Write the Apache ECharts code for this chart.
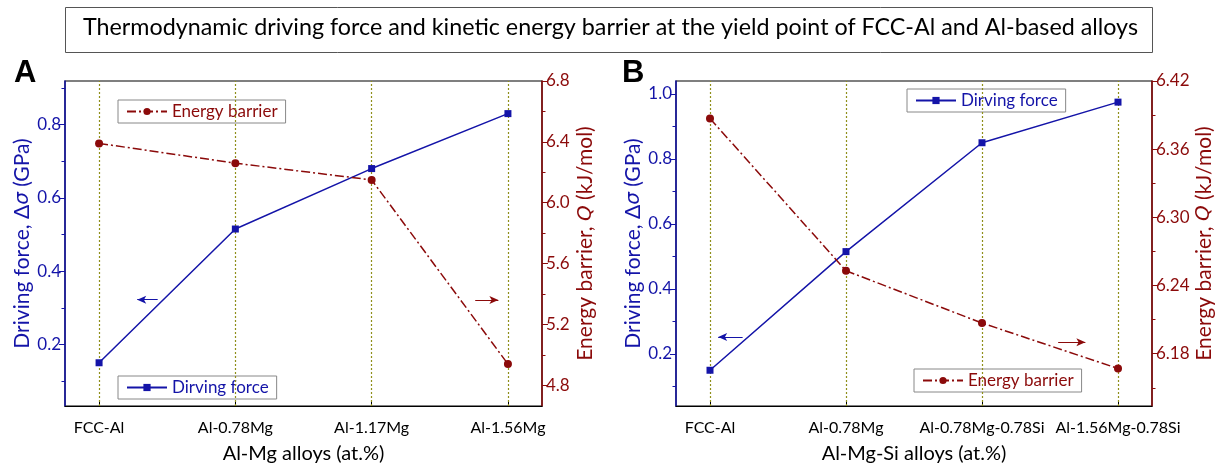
<!DOCTYPE html>
<html>
<head>
<meta charset="utf-8">
<script src="https://cdn.jsdelivr.net/npm/echarts@6/dist/echarts.min.js"></script>
<style>
  html, body { margin: 0; padding: 0; background: #fff; }
  #chartBox { width: 1221px; height: 469px; }
</style>
</head>
<body>
<div id="chartBox"></div>
<script>
// panel A: Al-Mg
const catsA = ['FCC-Al', 'Al-0.78Mg', 'Al-1.17Mg', 'Al-1.56Mg']
const forceA = [0.15, 0.515, 0.68, 0.83]
const barrierA = [6.39, 6.26, 6.15, 4.94]
const forceTicksA = [0.2, 0.4, 0.6, 0.8]
const forceMinorA = [0.1, 0.3, 0.5, 0.7, 0.9]
const barrierTicksA = [4.8, 5.2, 5.6, 6.0, 6.4, 6.8]
const barrierMinorA = [5.0, 5.4, 5.8, 6.2, 6.6]

// panel B: Al-Mg-Si
const catsB = ['FCC-Al', 'Al-0.78Mg', 'Al-0.78Mg-0.78Si', 'Al-1.56Mg-0.78Si']
const forceB = [0.15, 0.515, 0.85, 0.975]
const barrierB = [6.387, 6.253, 6.207, 6.167]
const forceTicksB = [0.2, 0.4, 0.6, 0.8, 1.0]
const forceMinorB = [0.1, 0.3, 0.5, 0.7, 0.9]
const barrierTicksB = [6.18, 6.24, 6.30, 6.36, 6.42]
const barrierMinorB = [6.15, 6.21, 6.27, 6.33, 6.39]

const BLUE = '#1414a8'
const RED = '#8b0a0a'
const OLIVE = '#8f8f1a'
const FONT = 'Lato'

function xAxisFor (grid, cats, title) {
  return {
    type: 'value',
    gridIndex: grid,
    min: -0.25,
    max: cats.length - 0.75,
    name: title,
    nameLocation: 'middle',
    nameGap: 38,
    nameTextStyle: { color: '#000', fontSize: 20, fontFamily: FONT },
    axisLine: { onZero: false, lineStyle: { color: '#000', width: 1.2 } },
    axisTick: { inside: true, length: 6, customValues: cats.map((c, i) => i), lineStyle: { color: '#000' } },
    axisLabel: {
      customValues: cats.map((c, i) => i),
      formatter: v => cats[Math.round(v)],
      color: '#000', fontSize: 16, fontFamily: FONT, margin: 14
    },
    splitLine: { show: false }
  }
}

function yAxisFor (grid, pos, min, max, ticks, digits, color, name) {
  return {
    type: 'value',
    gridIndex: grid,
    position: pos,
    min: min,
    max: max,
    name: name,
    nameLocation: 'middle',
    nameGap: pos === 'left' ? 32 : 33,
    nameTextStyle: {
      color: color, fontSize: 21, fontFamily: FONT,
      rich: { i: { fontStyle: 'italic', fontSize: 20, fontFamily: 'DejaVu Sans', color: color } }
    },
    axisLine: { show: true, onZero: false, lineStyle: { color: color, width: 1.5 } },
    axisTick: { show: true, length: 6, customValues: ticks, lineStyle: { color: color } },
    axisLabel: {
      customValues: ticks,
      formatter: v => v.toFixed(digits),
      color: color, fontSize: 17, fontFamily: FONT, margin: 4
    },
    splitLine: { show: false }
  }
}

function minorAxis (grid, pos, min, max, ticks, color) {
  return {
    type: 'value',
    gridIndex: grid,
    position: pos,
    min: min,
    max: max,
    axisLine: { show: false, onZero: false },
    axisTick: { show: true, length: 3.5, customValues: ticks, lineStyle: { color: color } },
    axisLabel: { show: false },
    splitLine: { show: false }
  }
}

function arrow (x0, x1, y, color) {
  return [
    { coord: [x0, y], symbol: 'none', lineStyle: { color: color, type: 'solid', width: 1 } },
    { coord: [x1, y], symbol: 'arrow', symbolSize: [6, 9] }
  ]
}

function guideLines (cats) {
  return cats.map((c, i) => ({ xAxis: i, lineStyle: { color: OLIVE, type: [2, 2], width: 1.2 } }))
}

function forceSeries (xi, yi, data, cats, arrowData) {
  return {
    name: 'Dirving force',
    type: 'line',
    xAxisIndex: xi,
    yAxisIndex: yi,
    data: data.map((v, i) => [i, v]),
    symbol: 'rect',
    symbolSize: 7,
    itemStyle: { color: BLUE },
    lineStyle: { color: BLUE, width: 1.5 },
    z: 5,
    markLine: {
      silent: true,
      symbol: 'none',
      animation: false,
      label: { show: false },
      data: guideLines(cats).concat([arrowData])
    }
  }
}

function barrierSeries (xi, yi, data, arrowData) {
  return {
    name: 'Energy barrier',
    type: 'line',
    xAxisIndex: xi,
    yAxisIndex: yi,
    data: data.map((v, i) => [i, v]),
    symbol: 'circle',
    symbolSize: 8,
    itemStyle: { color: RED },
    lineStyle: { color: RED, width: 1.5, type: [9, 3, 2, 3] },
    z: 5,
    markLine: {
      silent: true,
      symbol: 'none',
      animation: false,
      label: { show: false },
      data: [arrowData]
    }
  }
}

function legendBox (name, left, top, color) {
  return {
    data: [name],
    left: left,
    top: top,
    orient: 'horizontal',
    backgroundColor: '#fff',
    borderColor: '#888',
    borderWidth: 1,
    borderRadius: 0,
    padding: [3, 8, 3, 8],
    itemWidth: 40,
    itemHeight: 9,
    itemGap: 5,
    selectedMode: false,
    textStyle: { color: color, fontSize: 17, fontFamily: FONT }
  }
}

const myChart = echarts.init(document.getElementById('chartBox'))
myChart.setOption({
  animation: false,
  graphic: [
    { type: 'rect', left: 65, top: 7, shape: { width: 1087, height: 45 }, style: { fill: '#fff', stroke: '#555', lineWidth: 1 } },
    {
      type: 'text', left: 'center', top: 16,
      style: { text: 'Thermodynamic driving force and kinetic energy barrier at the yield point of FCC-Al and Al-based alloys', fill: '#000', font: '23.3px Lato' }
    },
    { type: 'text', left: 14, top: 58, style: { text: 'A', fill: '#000', font: 'bold 31px "Liberation Sans"' } },
    { type: 'text', left: 622, top: 58, style: { text: 'B', fill: '#000', font: 'bold 31px "Liberation Sans"' } }
  ],
  legend: [
    legendBox('Energy barrier', 118, 100, RED),
    legendBox('Dirving force', 118, 376, BLUE),
    legendBox('Dirving force', 907, 89, BLUE),
    legendBox('Energy barrier', 914, 369, RED)
  ],
  grid: [
    { left: 65, right: 679, top: 81, bottom: 59, show: true, borderColor: '#000', borderWidth: 1.2, backgroundColor: 'transparent' },
    { left: 676, right: 69, top: 81, bottom: 59, show: true, borderColor: '#000', borderWidth: 1.2, backgroundColor: 'transparent' }
  ],
  xAxis: [
    xAxisFor(0, catsA, 'Al-Mg alloys (at.%)'),
    xAxisFor(1, catsB, 'Al-Mg-Si alloys (at.%)')
  ],
  yAxis: [
    yAxisFor(0, 'left', 0.032, 0.919, forceTicksA, 1, BLUE, 'Driving force, Δ{i|σ} (GPa)'),
    yAxisFor(0, 'right', 4.664, 6.8, barrierTicksA, 1, RED, 'Energy barrier, {i|Q} (kJ/mol)'),
    minorAxis(0, 'left', 0.032, 0.919, forceMinorA, BLUE),
    minorAxis(0, 'right', 4.664, 6.8, barrierMinorA, RED),
    yAxisFor(1, 'left', 0.04, 1.04, forceTicksB, 1, BLUE, 'Driving force, Δ{i|σ} (GPa)'),
    yAxisFor(1, 'right', 6.134, 6.42, barrierTicksB, 2, RED, 'Energy barrier, {i|Q} (kJ/mol)'),
    minorAxis(1, 'left', 0.04, 1.04, forceMinorB, BLUE),
    minorAxis(1, 'right', 6.134, 6.42, barrierMinorB, RED)
  ],
  series: [
    forceSeries(0, 0, forceA, catsA, arrow(0.43, 0.28, 0.322, BLUE)),
    barrierSeries(0, 1, barrierA, arrow(2.76, 2.93, 5.36, RED)),
    forceSeries(1, 4, forceB, catsB, arrow(0.24, 0.06, 0.252, BLUE)),
    barrierSeries(1, 5, barrierB, arrow(2.56, 2.76, 6.19, RED))
  ]
})
</script>
</body>
</html>
